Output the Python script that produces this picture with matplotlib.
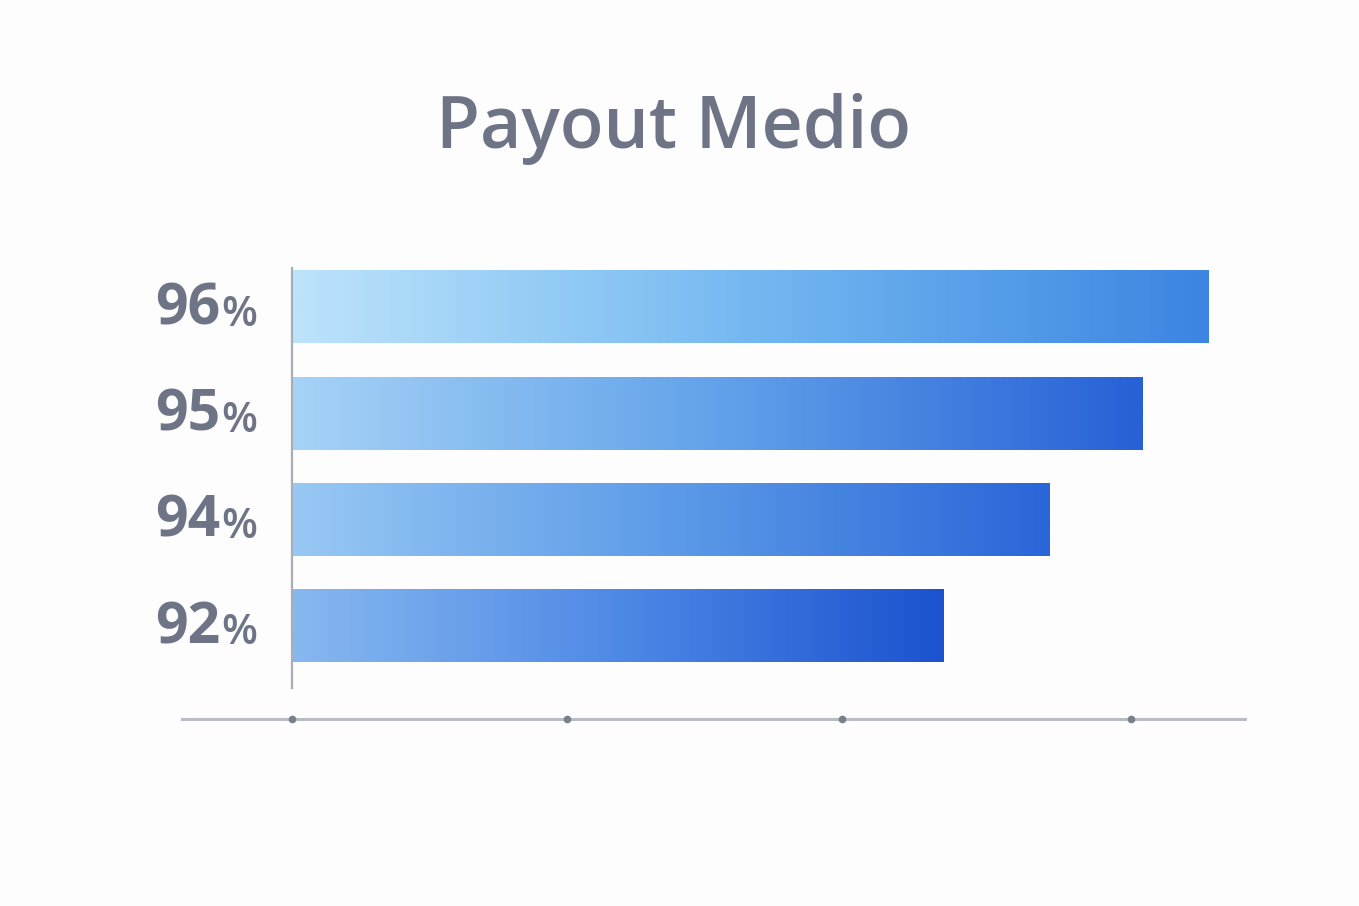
import matplotlib
matplotlib.use("Agg")
import matplotlib.pyplot as plt
import matplotlib.transforms as mtransforms
from matplotlib.colors import LinearSegmentedColormap
import numpy as np

# data
labels = ["96%", "95%", "94%", "92%"]
payout = [96.0, 95.0, 93.6, 92.0]
base_value = 82.2
dot_ticks = [82.2, 86.34, 90.48, 94.83]

title_color = "#6e7485"
# left / middle / right colour of each bar's gradient (top bar first)
grad_stops = [
    ["#bde3fb", "#74b8f1", "#3c85e2"],
    ["#a6d2f6", "#62a2ea", "#2761d6"],
    ["#98c8f4", "#5c9be8", "#2a66d8"],
    ["#88b8f0", "#4f89e6", "#1b53cf"],
]

W, H = 1359, 906
fig = plt.figure(figsize=(W / 100, H / 100), dpi=100)
fig.patch.set_facecolor("#fdfdfe")

# axes placed in pixel terms: x 182..1245, y 250..719 (from top)
ax = fig.add_axes([182 / W, (H - 719) / H, (1245 - 182) / W, (719 - 250) / H])
ax.set_facecolor("none")

ypos = np.arange(len(payout))[::-1]
bar_h = 0.68

bars = ax.barh(ypos, [v - base_value for v in payout], left=base_value,
               height=bar_h, color="none", edgecolor="none")
ramp = np.linspace(0, 1, 300)
for bar, stops in zip(bars, grad_stops):
    cmap = LinearSegmentedColormap.from_list("bar", stops)
    img = cmap(ramp)[None, :, :3]
    x0, y0 = bar.get_x(), bar.get_y()
    ax.imshow(img, aspect="auto", interpolation="bilinear",
              extent=[x0, x0 + bar.get_width(), y0, y0 + bar.get_height()],
              origin="upper", zorder=2)

ax.set_xlim(80.55, 96.55)
ax.set_ylim(-0.875, 3.54)

# vertical axis line at bar start
ax.axvline(base_value, ymin=(719 - 688) / 469, ymax=(719 - 268) / 469,
           color="#a9adb6", lw=1.6, zorder=3)

# baseline with dots
for s in ["top", "right", "left"]:
    ax.spines[s].set_visible(False)
ax.spines["bottom"].set_color("#b9bcc5")
ax.spines["bottom"].set_linewidth(2.2)
ax.set_xticks(dot_ticks)
ax.set_xticklabels([])
ax.tick_params(axis="x", length=0)
ax.set_yticks([])
ax.plot(dot_ticks, [-0.875] * len(dot_ticks), "o", color="#7a7f8c",
        markersize=4.5, clip_on=False, zorder=4)

# value labels on the left
trans = mtransforms.blended_transform_factory(fig.transFigure, ax.transData)
for y, lab in zip(ypos, labels):
    num = lab.rstrip("%")
    ax.text(220 / W, y - 0.02, num, transform=trans, ha="right", va="center",
            fontsize=41, fontweight="bold", family="Open Sans",
            color=title_color)
    ax.text(221 / W, y - 0.07, "%", transform=trans, ha="left", va="center",
            fontsize=30, fontweight="semibold", family="Open Sans",
            color=title_color)

fig.text(673 / W, 1 - 129 / H, "Payout Medio", ha="center", va="center",
         fontsize=51.5, fontweight="semibold", family="Open Sans",
         color=title_color)

fig.savefig("out.png", dpi=100, facecolor=fig.get_facecolor())
